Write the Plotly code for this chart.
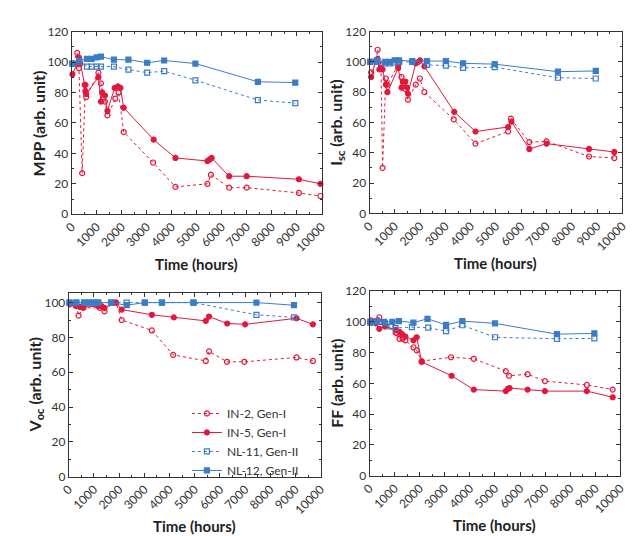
import plotly.graph_objects as go

RED = "#e3173c"
BLUE = "#3c7cc6"
FONT = "Lato"

# ---------------- data ----------------
series_names = ["IN-2, Gen-I", "IN-5, Gen-I", "NL-11, Gen-II", "NL-12, Gen-II"]

# MPP
mpp_in2_t = [30, 220, 290, 420, 550, 580, 1070, 1170, 1330, 1430, 1745, 1875, 2080, 3255, 4150, 5430, 5570, 6300, 7000, 9090, 9950]
mpp_in2_v = [99, 106, 96, 27, 85, 77, 93, 86, 74, 65, 76, 80, 54, 34, 18, 20, 26, 17.5, 17.5, 14, 12]
mpp_in5_t = [30, 220, 290, 350, 520, 550, 580, 1070, 1170, 1220, 1330, 1430, 1720, 1850, 1950, 2080, 3280, 4150, 5430, 5520, 5600, 6300, 7000, 9090, 9950]
mpp_in5_v = [92, 99, 103, 99, 85, 81, 79, 90, 74, 80, 78, 68, 83, 84, 83, 70, 49, 37, 35, 36, 37, 25, 25, 23, 20]
mpp_nl_t = [30, 300, 610, 800, 1000, 1170, 1690, 2270, 3020, 3700, 4950, 7450, 8945]
mpp_nl11_v = [99, 100, 97, 97, 97, 97, 97, 95, 93, 94, 88, 75, 73]
mpp_nl12_v = [99, 101, 102, 102, 103, 103.5, 101.5, 101.5, 99.5, 101, 99, 87, 86.5]

# Isc
isc_in2_t = [65, 260, 320, 450, 516, 645, 710, 1135, 1265, 1355, 1420, 1520, 1830, 1990, 2170, 3330, 4190, 5480, 5590, 6320, 7000, 8680, 9680]
isc_in2_v = [93, 100, 108, 98, 30, 89, 85, 98, 90, 86, 82, 75, 85, 89, 80, 62, 46, 54, 62.5, 47, 47.5, 37.5, 36.5]
isc_in5_t = [65, 260, 320, 390, 450, 516, 645, 710, 1135, 1265, 1320, 1420, 1485, 1520, 1830, 1935, 2000, 2170, 3350, 4190, 5480, 5610, 6320, 7000, 8680, 9680]
isc_in5_v = [90, 101, 102, 95, 96, 95, 85, 80, 96, 83, 87, 87, 83, 79, 99, 100, 101, 97, 67, 54, 57, 60.5, 42.5, 46, 42.5, 40.5]
isc_nl_t = [30, 300, 610, 800, 1000, 1170, 1690, 2270, 3020, 3700, 4950, 7450, 8945]
isc_nl11_v = [100, 100, 99, 99, 99.5, 100, 100, 98, 97.5, 96, 96.5, 89.5, 89]
isc_nl12_v = [100, 101, 100, 100, 101, 101, 100.5, 100.5, 100.5, 99, 98.5, 93.5, 94]

# Voc
voc_in2_t = [40, 300, 390, 580, 1230, 1420, 1750, 1880, 2100, 3300, 4145, 5440, 5570, 6280, 6970, 9040, 9690]
voc_in2_v = [99, 98, 92.5, 97, 97, 95, 100, 100, 90, 84, 70, 66.5, 72, 66, 66, 68.5, 66.5]
voc_in5_t = [40, 260, 450, 580, 1170, 1300, 1420, 1790, 1880, 2100, 3300, 4170, 5440, 5570, 6290, 7000, 9040, 9690]
voc_in5_v = [99.5, 98.5, 97.5, 97.5, 98, 98, 97, 100, 100, 96, 93, 91.5, 89.5, 92, 88, 87.5, 91, 87.5]
voc_nl_t = [30, 300, 610, 800, 1000, 1170, 1680, 2300, 3020, 3700, 4950, 7450, 8940]
voc_nl11_v = [100, 100, 100, 100, 100, 100, 100, 100, 100, 100, 100, 93, 91.5]
voc_nl12_v = [100, 100, 100, 100, 100, 100, 100, 98.5, 100, 100, 100, 100, 98.5]

# FF
ff_in2_t = [65, 390, 455, 620, 1040, 1100, 1195, 1325, 1430, 1750, 1880, 2080, 3250, 4155, 5430, 5560, 6300, 6990, 8660, 9690]
ff_in2_v = [101, 103, 100, 98, 93, 92.5, 89, 89, 88, 83.5, 81.5, 74.5, 77, 76, 68, 65, 66, 61.5, 59, 56]
ff_in5_t = [65, 260, 390, 620, 1040, 1195, 1300, 1430, 1750, 1880, 2080, 3270, 4155, 5430, 5520, 5580, 6300, 6990, 8660, 9690]
ff_in5_v = [99.5, 99, 95.5, 97, 95, 93.5, 92, 90.5, 88, 90, 74, 65, 56, 55, 56.5, 57, 56, 55, 55, 51]
ff_nl11_t = [30, 300, 610, 845, 1040, 1690, 2340, 3050, 3700, 5000, 7470, 8960]
ff_nl11_v = [99.5, 100, 99, 97, 96, 96.6, 96.2, 94, 97.8, 90, 89, 89.3]
ff_nl12_t = [30, 300, 580, 910, 1170, 1750, 2310, 3050, 3700, 5000, 7470, 8960]
ff_nl12_v = [100, 100.5, 100, 100, 100.5, 99.5, 102, 98, 100.5, 99, 92, 92.5]

x_tickvals = [0, 1000, 2000, 3000, 4000, 5000, 6000, 7000, 8000, 9000, 10000]
x_ticktext = [str(v) for v in x_tickvals]

panels = [
    dict(xa="x", ya="y", ymax=120, ytitle="MPP (arb. unit)",
         data=[(mpp_in2_t, mpp_in2_v), (mpp_in5_t, mpp_in5_v), (mpp_nl_t, mpp_nl11_v), (mpp_nl_t, mpp_nl12_v)]),
    dict(xa="x2", ya="y2", ymax=120, ytitle="I<sub>sc</sub> (arb. unit)",
         data=[(isc_in2_t, isc_in2_v), (isc_in5_t, isc_in5_v), (isc_nl_t, isc_nl11_v), (isc_nl_t, isc_nl12_v)]),
    dict(xa="x3", ya="y3", ymax=105.5, ytitle="V<sub>oc</sub> (arb. unit)",
         data=[(voc_in2_t, voc_in2_v), (voc_in5_t, voc_in5_v), (voc_nl_t, voc_nl11_v), (voc_nl_t, voc_nl12_v)]),
    dict(xa="x4", ya="y4", ymax=120, ytitle="FF (arb. unit)",
         data=[(ff_in2_t, ff_in2_v), (ff_in5_t, ff_in5_v), (ff_nl11_t, ff_nl11_v), (ff_nl12_t, ff_nl12_v)]),
]

styles = [
    dict(color=RED, dash="dot", symbol="circle-open"),
    dict(color=RED, dash="solid", symbol="circle"),
    dict(color=BLUE, dash="dot", symbol="square-open"),
    dict(color=BLUE, dash="solid", symbol="square"),
]

W, H = 638, 536
# pixel boxes (left, right, top, bottom)
boxes = [(56, 312, 16, 204), (361, 620, 16, 203), (53, 311, 285, 474), (361, 618, 283, 473)]

fig = go.Figure()
for pi, p in enumerate(panels):
    for si, (t, v) in enumerate(p["data"]):
        st = styles[si]
        fig.add_trace(go.Scatter(
            x=t, y=v, xaxis=p["xa"], yaxis=p["ya"], mode="lines+markers",
            name=series_names[si], showlegend=(pi == 2),
            line=dict(color=st["color"], width=1, dash=st["dash"]),
            marker=dict(symbol=st["symbol"], size=5, color=st["color"],
                        line=dict(color=st["color"], width=1.2)),
            cliponaxis=False,
        ))

layout = dict(
    width=W, height=H, margin=dict(l=0, r=0, t=0, b=0),
    paper_bgcolor="white", plot_bgcolor="white",
    font=dict(family=FONT, size=12, color="#333"),
    legend=dict(x=174 / W, y=1 - 394 / H, xanchor="left", yanchor="top",
                bgcolor="rgba(0,0,0,0)", font=dict(size=12, color="#333"),
                tracegroupgap=0, itemwidth=30),
)
annotations = []
for pi, p in enumerate(panels):
    l, r, t, b = boxes[pi]
    suffix = "" if pi == 0 else str(pi + 1)
    common = dict(showline=True, linecolor="#333", linewidth=1, mirror="ticks",
                  ticks="inside", ticklen=4, tickcolor="#333", showgrid=False,
                  zeroline=False, tickfont=dict(family=FONT, size=12, color="#333"))
    layout["xaxis" + suffix] = dict(
        domain=[l / W, r / W], anchor="y" + suffix, range=[0, 10000],
        tickvals=x_tickvals, ticktext=x_ticktext, tickangle=-45,
        minor=dict(dtick=500, ticks="inside", ticklen=2, tickcolor="#333"),
        **common)
    layout["yaxis" + suffix] = dict(
        domain=[1 - b / H, 1 - t / H], anchor="x" + suffix, range=[0, p["ymax"]],
        dtick=20, tick0=0,
        minor=dict(dtick=10, ticks="inside", ticklen=2, tickcolor="#333"),
        **common)
    # x title
    annotations.append(dict(
        text="<b>Time (hours)</b>", xref="paper", yref="paper",
        x=(l + r) / 2 / W, y=1 - (b + 51) / H, xanchor="center", yanchor="middle",
        showarrow=False, font=dict(family=FONT, size=15, color="#222")))
    # y title
    annotations.append(dict(
        text="<b>" + p["ytitle"] + "</b>", xref="paper", yref="paper",
        x=(l - 34) / W, y=1 - (t + b) / 2 / H, xanchor="center", yanchor="middle",
        textangle=-90, showarrow=False, font=dict(family=FONT, size=16, color="#222")))
layout["annotations"] = annotations
fig.update_layout(**layout)
fig.write_html("out.html")
